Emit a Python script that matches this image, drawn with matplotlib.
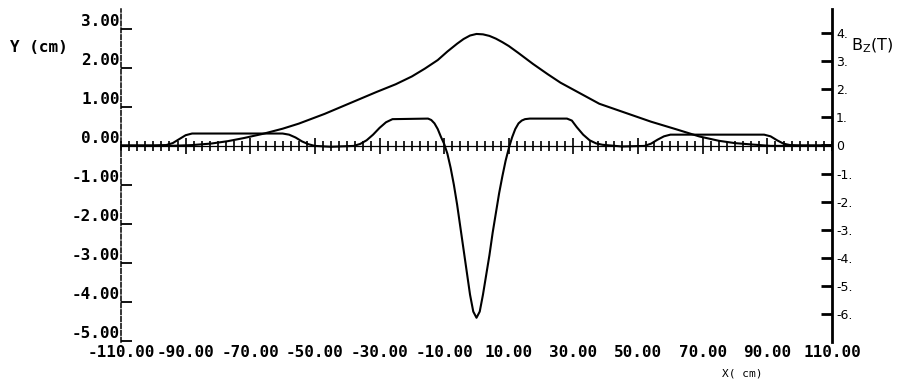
import matplotlib
matplotlib.use("Agg")
import matplotlib.pyplot as plt
from matplotlib.ticker import MultipleLocator, FormatStrFormatter, FuncFormatter

plt.rcParams["axes.unicode_minus"] = False

# beam envelope Y (cm), left axis
env_x = [-110, -95, -88, -82, -77, -72, -66, -60, -55, -47, -39, -31, -25, -20, -16, -12, -9,
         -6, -4, -2, 0, 2, 4, 6, 8, 10, 13, 17.5, 22, 26, 32, 38, 46, 54, 62, 69, 75, 80, 86,
         91, 100, 110]
env_y = [0, 0, 0.02, 0.06, 0.12, 0.2, 0.31, 0.44, 0.57, 0.82, 1.1, 1.38, 1.58, 1.78, 1.98,
         2.2, 2.42, 2.62, 2.74, 2.83, 2.87, 2.86, 2.82, 2.75, 2.66, 2.56, 2.38, 2.1, 1.84, 1.62,
         1.35, 1.08, 0.85, 0.62, 0.42, 0.24, 0.13, 0.07, 0.03, 0, 0, 0]

# field Bz (T), right axis
bz_x = [-110, -100, -96, -94, -92, -90, -88, -60, -58, -56, -54, -52, -50, -45, -38, -36, -34,
        -32, -30, -28, -26, -15, -14, -13, -12, -11, -10, -9, -8, -7, -6, -5, -4, -3, -2, -1,
        0, 1, 2, 3, 4, 5, 6, 7, 8, 9, 10, 11, 12, 13, 14, 15, 16.5, 28, 29.5, 31, 33, 35, 37,
        39, 45, 52, 54, 56, 58, 60, 89, 91, 93, 95, 97, 100, 110]
bz_y = [0, 0, 0.01, 0.08, 0.22, 0.36, 0.42, 0.42, 0.38, 0.28, 0.14, 0.04, -0.02, -0.05, -0.02,
        0.05, 0.18, 0.38, 0.62, 0.82, 0.93, 0.95, 0.9, 0.78, 0.58, 0.3, 0.05, -0.3, -0.8, -1.4,
        -2.1, -2.9, -3.7, -4.5, -5.3, -5.9, -6.12, -5.9, -5.3, -4.6, -3.9, -3.1, -2.4, -1.7, -1.1,
        -0.55, -0.1, 0.28, 0.58, 0.78, 0.88, 0.93, 0.95, 0.95, 0.88, 0.65, 0.38, 0.18, 0.07,
        0.02, -0.04, -0.02, 0.06, 0.2, 0.32, 0.38, 0.38, 0.32, 0.18, 0.06, 0.01, 0, 0]

y_ticks = list(range(-5, 4))
bz_ticks = list(range(-6, 5))
x_label_ticks = list(range(-110, 111, 20))
x_major = list(range(-90, 91, 20))

W, H = 898, 386
fig = plt.figure(figsize=(W / 100, H / 100), dpi=100)
left, right, top, bottom = 121, 832, 9, 342
ax = fig.add_axes([left / W, 1 - bottom / H, (right - left) / W, (bottom - top) / H])
ax.set_xlim(-110, 110)
ax.set_ylim(-5.03, 3.51)

mono = dict(family="DejaVu Sans Mono", weight="bold", size=11.5)

ax.plot(env_x, env_y, color="black", lw=1.5, solid_joinstyle="round")

# spines
ax.spines["top"].set_visible(False)
ax.spines["right"].set_visible(False)
ax.spines["left"].set_linestyle((0, (3, 1.5)))
ax.spines["left"].set_linewidth(1.1)
ax.spines["bottom"].set_position(("data", 0))
ax.spines["bottom"].set_linewidth(0.9)

# x axis on the zero line, hatch ticks
ax.set_xticks(x_major)
ax.xaxis.set_minor_locator(MultipleLocator(2.5))
ax.tick_params(axis="x", which="major", direction="inout", length=12, width=1.2, labelbottom=False)
ax.tick_params(axis="x", which="minor", direction="inout", length=7, width=1.2)

# left y axis
ax.set_yticks(y_ticks)
ax.yaxis.set_major_formatter(FormatStrFormatter("%.2f"))
ax.tick_params(axis="y", direction="in", length=8, width=1.3, pad=1)
for lab in ax.get_yticklabels():
    lab.set_fontproperties(mono)
    lab.set_va("bottom")

# x tick labels at the bottom
sec = ax.secondary_xaxis(0.0)
sec.set_xticks(x_label_ticks)
sec.xaxis.set_major_formatter(FormatStrFormatter("%.2f"))
sec.spines["bottom"].set_visible(False)
sec.tick_params(axis="x", length=0, pad=2)
for lab in sec.get_xticklabels():
    lab.set_fontproperties(mono)

# right Bz axis
ax2 = ax.twinx()
ax2.set_ylim(-6.98, 4.84)
ax2.plot(bz_x, bz_y, color="black", lw=1.5, solid_joinstyle="round")
for s in ("top", "bottom", "left"):
    ax2.spines[s].set_visible(False)
ax2.spines["right"].set_linewidth(2)
ax2.set_yticks(bz_ticks)
ax2.yaxis.set_major_formatter(FuncFormatter(lambda v, p: "0" if v == 0 else f"{int(v)}."))
ax2.tick_params(axis="y", direction="in", length=8, width=2, pad=3, labelsize=9)

fig.text(10 / W, 1 - 47 / H, "Y (cm)", ha="left", va="center", **mono)
fig.text(851 / W, 1 - 46 / H, r"B$_\mathregular{Z}$(T)", ha="left", va="center", fontsize=11.5)
fig.text(742 / W, 1 - 373 / H, "X( cm)", ha="center", va="center", family="DejaVu Sans Mono", fontsize=8)

fig.savefig("out.png", dpi=100, facecolor="white")
